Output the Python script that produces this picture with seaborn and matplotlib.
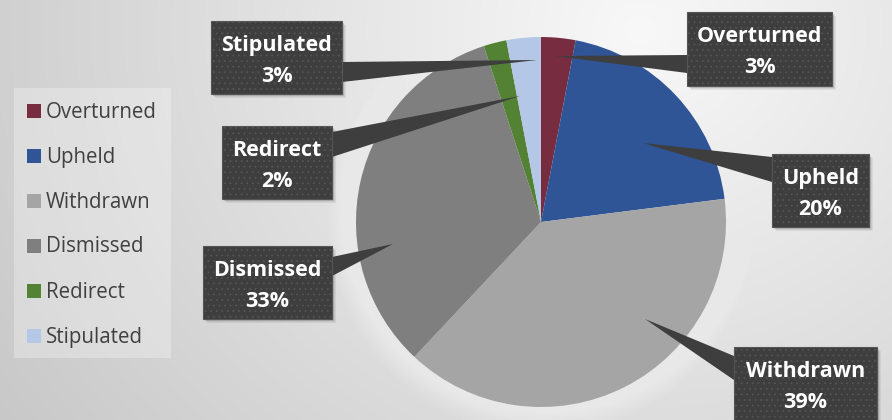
import numpy as np
import matplotlib
matplotlib.use("Agg")
import matplotlib.pyplot as plt
from matplotlib.patches import Rectangle, Polygon, Circle
import seaborn as sns

# Case outcomes
categories = ["Overturned", "Upheld", "Withdrawn", "Dismissed", "Redirect", "Stipulated"]
percentages = [3, 20, 39, 33, 2, 3]
slice_colors = ["#772c3f", "#2f5597", "#a5a5a5", "#7f7f7f", "#548235", "#b4c7e7"]

W, H = 892, 420
sns.set_theme(style="white")
plt.rcParams["font.family"] = ["Open Sans", "DejaVu Sans"]


def Y(y):
    # pixel rows are counted from the top
    return H - y


fig = plt.figure(figsize=(W / 100, H / 100), dpi=100)
ax = fig.add_axes([0, 0, 1, 1])

# radial grey backdrop, brightest above the pie
yy, xx = np.mgrid[0:H, 0:W]
d = np.hypot((xx - 640) / 1.0, (yy - 30) / 0.9)
shade = np.clip(248 - 0.062 * d, 190, 250) / 255.0
ax.imshow(np.dstack([shade] * 3), extent=(0, W, 0, H), origin="upper",
          zorder=0, interpolation="bilinear")

# pie
cx, cy, R = 541, 222, 185
for k in range(14):
    ax.add_patch(Circle((cx, Y(cy)), R + 2 + 2 * k, color="white",
                        alpha=0.045, lw=0, zorder=1))
wedges, _ = ax.pie(percentages, colors=slice_colors, startangle=90,
                   counterclock=False, center=(cx, Y(cy)), radius=R,
                   wedgeprops=dict(linewidth=0, zorder=2))
for w in wedges:
    w.set_zorder(2)

# legend panel
ax.add_patch(Rectangle((14, Y(358)), 157, 270, facecolor="white",
                       alpha=0.28, lw=0, zorder=3))
for i, (name, col) in enumerate(zip(categories, slice_colors)):
    top = 104 + 45 * i
    ax.add_patch(Rectangle((27, Y(top + 14)), 14, 14, facecolor=col,
                           lw=0, zorder=4))
    ax.text(46, Y(top + 14) + 0.5, name, fontsize=14.8, color="#404040",
            va="baseline", ha="left", zorder=4)

# callouts: box (x0, y0, x1, y1), leader tip, leader base on box edge
callouts = {
    "Overturned": ((687, 12, 832, 86), (555, 56), (687, 55, 687, 73)),
    "Upheld": ((772, 154, 869, 227), (643, 143), (772, 157, 772, 182)),
    "Withdrawn": ((734, 347, 877, 428), (645, 319), (734, 356, 734, 380)),
    "Dismissed": ((203, 246, 332, 319), (393, 244), (332, 257, 332, 276)),
    "Redirect": ((222, 126, 332, 199), (520, 96), (332, 132, 332, 157)),
    "Stipulated": ((211, 21, 342, 94), (537, 60), (342, 62, 342, 82)),
}
box_col = "#3e3e3e"
plt.rcParams["hatch.color"] = "#5c5c5c"
plt.rcParams["hatch.linewidth"] = 0.6

for name, pct in zip(categories, percentages):
    (x0, y0, x1, y1), (tx, ty), (bx0, by0, bx1, by1) = callouts[name]
    # soft drop shadow
    for s in range(1, 6):
        ax.add_patch(Rectangle((x0 + s * 0.8, Y(y1) - s * 0.8), x1 - x0, y1 - y0,
                               facecolor="black", alpha=0.06, lw=0, zorder=5))
    ax.add_patch(Polygon([(tx, Y(ty)), (bx0, Y(by0)), (bx1, Y(by1))],
                         closed=True, facecolor=box_col, edgecolor="none",
                         hatch="...", zorder=6))
    ax.add_patch(Rectangle((x0, Y(y1)), x1 - x0, y1 - y0, facecolor=box_col,
                           edgecolor="#555555", lw=0.8, hatch="...", zorder=7))
    xc = (x0 + x1) / 2
    ax.text(xc, Y(y0 + 30), name, fontsize=15.5, fontweight="bold",
            color="white", ha="center", va="baseline", zorder=8)
    ax.text(xc, Y(y0 + 61), f"{pct}%", fontsize=15.5, fontweight="bold",
            color="white", ha="center", va="baseline", zorder=8)

ax.set_xlim(0, W)
ax.set_ylim(0, H)
ax.set_aspect("auto")
ax.axis("off")
fig.savefig("out.png", dpi=100)
